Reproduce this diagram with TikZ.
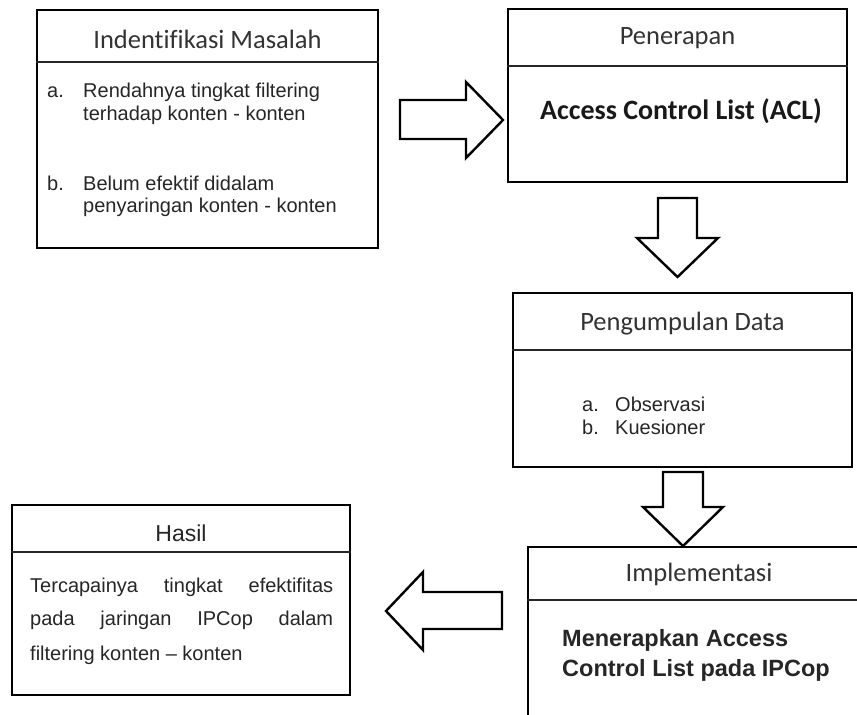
\documentclass[tikz,border=0pt]{standalone}
\usepackage{fontspec}
\setmainfont{Liberation Sans}
\newfontfamily\calfont[Ligatures=NoCommon]{Carlito}
\begin{document}
\begin{tikzpicture}[x=1pt,y=-1pt,
  box/.style={draw=black,line width=2.6pt,inner sep=0pt,fill=none},
  div/.style={draw=black!85,line width=1.4pt},
  blockarrow/.style={draw=black,line width=2.4pt,line join=miter,fill=white},
  ttl/.style={inner sep=0pt,anchor=base,text=black!80,font=\calfont\fontsize{26.5}{30}\selectfont},
  itm/.style={inner sep=0pt,anchor=base west,text=black!85,font=\fontsize{20}{23}\selectfont},
  acl/.style={inner sep=0pt,anchor=base,text=black!90,font=\calfont\bfseries\fontsize{28}{32}\selectfont},
  impl/.style={inner sep=0pt,anchor=base west,text=black!85,font=\bfseries\fontsize{23.5}{28}\selectfont},
  hsl/.style={inner sep=0pt,anchor=base west,text=black!85,font=\fontsize{20}{23}\selectfont}]
\useasboundingbox (0,0) rectangle (857,715);
\clip (0,0) rectangle (857,715);
\fill[white] (0,0) rectangle (857,715);

% Box 1: Indentifikasi Masalah
\node[box,minimum width=341pt,minimum height=238pt] (b1) at (207.5,129) {};
\draw[div] (b1.west |- 0,62) -- (b1.east |- 0,62);
\node[ttl] (t1) at (207.5,48.5) {Indentifikasi Masalah};
\node[itm] (i1a) at (47,97) {a.};
\node[itm] (i1a1) at (83,97) {Rendahnya tingkat filtering};
\node[itm] (i1a2) at (83,120) {terhadap konten - konten};
\node[itm] (i1b) at (47,190) {b.};
\node[itm] (i1b1) at (83,190) {Belum efektif didalam};
\node[itm] (i1b2) at (83,212) {penyaringan konten - konten};

% Box 2: Penerapan
\node[box,minimum width=339pt,minimum height=173pt] (b2) at (677.5,95.5) {};
\draw[div] (b2.west |- 0,66) -- (b2.east |- 0,66);
\node[ttl] (t2) at (677.5,44.5) {Penerapan};
\node[acl] (acl) at (681,119) {Access Control List (ACL)};

% Box 3: Pengumpulan Data
\node[box,minimum width=339pt,minimum height=174pt] (b3) at (682.5,380) {};
\draw[div] (b3.west |- 0,350) -- (b3.east |- 0,350);
\node[ttl] (t3) at (682.5,330.5) {Pengumpulan Data};
\node[itm] (i3a) at (582,411) {a.};
\node[itm] (i3a1) at (615,411) {Observasi};
\node[itm] (i3b) at (582,434) {b.};
\node[itm] (i3b1) at (615,434) {Kuesioner};

% Box 4: Implementasi (runs off the page)
\node[box,minimum width=347pt,minimum height=183pt] (b4) at (701.5,638.5) {};
\draw[div] (b4.west |- 0,600) -- (b4.east |- 0,600);
\node[ttl] (t4) at (699,581.5) {Implementasi};
\node[impl] (i4a) at (562,646.5) {Menerapkan Access};
\node[impl] (i4b) at (562,676.5) {Control List pada IPCop};

% Box 5: Hasil
\node[box,minimum width=338pt,minimum height=190pt] (b5) at (181,600) {};
\draw[div] (b5.west |- 0,552) -- (b5.east |- 0,552);
\node[inner sep=0pt,anchor=base,text=black!85,font=\fontsize{23}{26}\selectfont] (t5) at (181,541) {Hasil};
\node[hsl] (h1) at (30,592) {\hbox to 303pt{Tercapainya\hfill tingkat\hfill efektifitas}};
\node[hsl] (h2) at (30,625) {\hbox to 303pt{pada\hfill jaringan\hfill IPCop\hfill dalam}};
\node[hsl] (h3) at (30,660) {filtering konten -- konten};

% Block arrows
\draw[blockarrow] (400,100) -- (466,100) -- (466,82) -- (503,120) -- (466,158) -- (466,139) -- (400,139) -- cycle;
\draw[blockarrow] (658,198) -- (697,198) -- (697,238) -- (718,238) -- (677.5,277) -- (637,238) -- (658,238) -- cycle;
\draw[blockarrow] (663,472) -- (703,472) -- (703,507) -- (723,507) -- (683,546) -- (643,507) -- (663,507) -- cycle;
\draw[blockarrow] (502,592) -- (423,592) -- (423,572) -- (386,611) -- (423,650) -- (423,629) -- (502,629) -- cycle;
\end{tikzpicture}
\end{document}
